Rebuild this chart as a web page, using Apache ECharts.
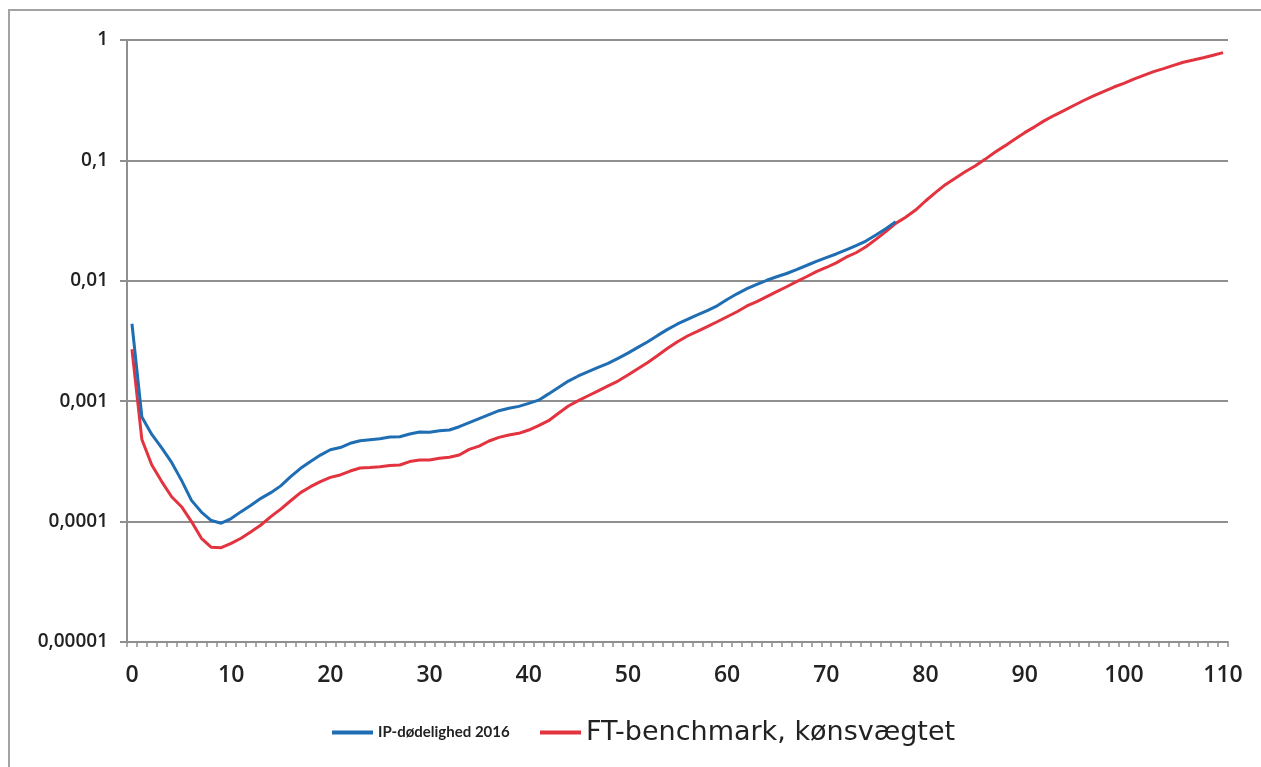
<!DOCTYPE html>
<html>
<head>
<meta charset="utf-8">
<title>Dødelighed</title>
<script src="https://cdn.jsdelivr.net/npm/echarts@6.0.0/dist/echarts.min.js"></script>
<style>
  html, body { margin: 0; padding: 0; background: #ffffff; }
  #chart { width: 1261px; height: 767px; }
</style>
</head>
<body>
<div id="chart"></div>
<script>
// Ages 0..110 on the category axis
const ages = [];
for (let a = 0; a <= 110; a++) ages.push(String(a));

// Labels for the decades of the log axis, from 1e-5 up to 1
const yTickLabels = ['0,00001', '0,0001', '0,001', '0,01', '0,1', '1'];

const seriesNames = ['IP-dødelighed 2016', 'FT-benchmark, kønsvægtet'];

// IP-dødelighed 2016, ages 0..77
const ipMortality = [
  0.0044, 0.00074, 0.00053, 0.00041, 0.00031, 0.00022, 0.00015, 0.00012, 0.000102, 0.000097,
  0.000106, 0.000121, 0.000137, 0.000156, 0.000174, 0.000198, 0.000236, 0.000277, 0.000315, 0.000357,
  0.000395, 0.000412, 0.000447, 0.00047, 0.000479, 0.000488, 0.000504, 0.000507, 0.000534, 0.000555,
  0.000552, 0.000569, 0.000576, 0.000614, 0.000663, 0.000716, 0.000773, 0.000834, 0.000873, 0.000906,
  0.000959, 0.00102, 0.00115, 0.0013, 0.00147, 0.00162, 0.00176, 0.00191, 0.00206, 0.00227,
  0.00251, 0.0028, 0.00312, 0.00352, 0.00395, 0.00438, 0.00479, 0.0052, 0.00565, 0.0062,
  0.0070, 0.0078, 0.0086, 0.00935, 0.0101, 0.0108, 0.0115, 0.0124, 0.0134, 0.0145,
  0.0156, 0.0167, 0.0181, 0.0196, 0.0214, 0.024, 0.0271, 0.031
];

// FT-benchmark, kønsvægtet, ages 0..110
const ftBenchmark = [
  0.0027, 0.00048, 0.000295, 0.000215, 0.000161, 0.000133, 0.0001, 0.0000727, 0.0000611, 0.0000607,
  0.0000659, 0.0000727, 0.0000824, 0.0000937, 0.00011, 0.000127, 0.000149, 0.000174, 0.000195, 0.000215,
  0.000233, 0.000244, 0.000263, 0.000279, 0.000282, 0.000286, 0.000292, 0.000295, 0.000315, 0.000325,
  0.000325, 0.000336, 0.000342, 0.000357, 0.000398, 0.000424, 0.000467, 0.000501, 0.000524, 0.000541,
  0.000576, 0.000626, 0.000689, 0.000793, 0.000912, 0.00101, 0.00111, 0.00122, 0.00134, 0.00147,
  0.00165, 0.00186, 0.0021, 0.0024, 0.00275, 0.00312, 0.00348, 0.0038, 0.00416, 0.00457,
  0.00503, 0.00553, 0.00618, 0.00671, 0.00738, 0.00812, 0.00893, 0.00983, 0.0108, 0.0119,
  0.0129, 0.0141, 0.0157, 0.0171, 0.0192, 0.0221, 0.0256, 0.03, 0.0337, 0.0387,
  0.046, 0.054, 0.0629, 0.071, 0.0805, 0.0898, 0.102, 0.117, 0.132, 0.15,
  0.17, 0.19, 0.214, 0.237, 0.26, 0.287, 0.316, 0.345, 0.375, 0.407,
  0.437, 0.474, 0.509, 0.546, 0.578, 0.616, 0.653, 0.682, 0.713, 0.746,
  0.785
];

const BLUE = '#1f6db3';
const RED = '#e2333f';
const GRID_GREY = '#8f8f8f';
const TEXT = '#222222';

const chart = echarts.init(document.getElementById('chart'), null, { renderer: 'canvas' });

chart.setOption({
  backgroundColor: '#ffffff',
  animation: false,
  graphic: [{
    type: 'rect',
    silent: true,
    shape: { x: 9, y: 10, width: 1270, height: 790 },
    style: { fill: 'none', stroke: '#a3a3a3', lineWidth: 2 }
  }],
  grid: { left: 127, right: 33, top: 40, bottom: 125, containLabel: false },
  legend: [{
    left: 332, top: 725, padding: 0,
    icon: 'rect', itemWidth: 41, itemHeight: 4,
    data: [seriesNames[0]],
    textStyle: { fontFamily: 'Lato, sans-serif', fontWeight: 'bold', fontSize: 15, color: TEXT }
  }, {
    left: 540, top: 719, padding: 0,
    icon: 'rect', itemWidth: 41, itemHeight: 4,
    data: [seriesNames[1]],
    textStyle: { fontFamily: '"DejaVu Sans", sans-serif', fontSize: 27, color: TEXT }
  }],
  xAxis: {
    type: 'category',
    data: ages,
    boundaryGap: true,
    axisLine: { show: true, lineStyle: { color: GRID_GREY, width: 2 } },
    axisTick: { show: true, interval: 0, length: 5, lineStyle: { color: GRID_GREY, width: 1.5 } },
    axisLabel: {
      interval: 9,
      margin: 22,
      fontFamily: '"Open Sans", sans-serif',
      fontWeight: 600,
      fontSize: 23,
      color: TEXT
    },
    splitLine: { show: false }
  },
  yAxis: {
    type: 'log',
    logBase: 10,
    min: 0.00001,
    max: 1,
    axisLine: { show: true, lineStyle: { color: GRID_GREY, width: 2 } },
    axisTick: { show: true, length: 7, lineStyle: { color: GRID_GREY, width: 2 } },
    splitLine: { show: true, lineStyle: { color: GRID_GREY, width: 2 } },
    axisLabel: {
      margin: 19,
      fontFamily: '"Open Sans", sans-serif',
      fontWeight: 600,
      fontSize: 19,
      color: TEXT,
      formatter: function (v) {
        const e = Math.round(Math.log10(v));
        return yTickLabels[e + 5] || '';
      }
    }
  },
  series: [{
    name: seriesNames[1],
    type: 'line',
    data: ftBenchmark,
    showSymbol: false,
    symbol: 'none',
    lineStyle: { color: RED, width: 3 },
    itemStyle: { color: RED },
    z: 2
  }, {
    name: seriesNames[0],
    type: 'line',
    data: ipMortality,
    showSymbol: false,
    symbol: 'none',
    lineStyle: { color: BLUE, width: 3 },
    itemStyle: { color: BLUE },
    z: 3
  }]
});
</script>
</body>
</html>
